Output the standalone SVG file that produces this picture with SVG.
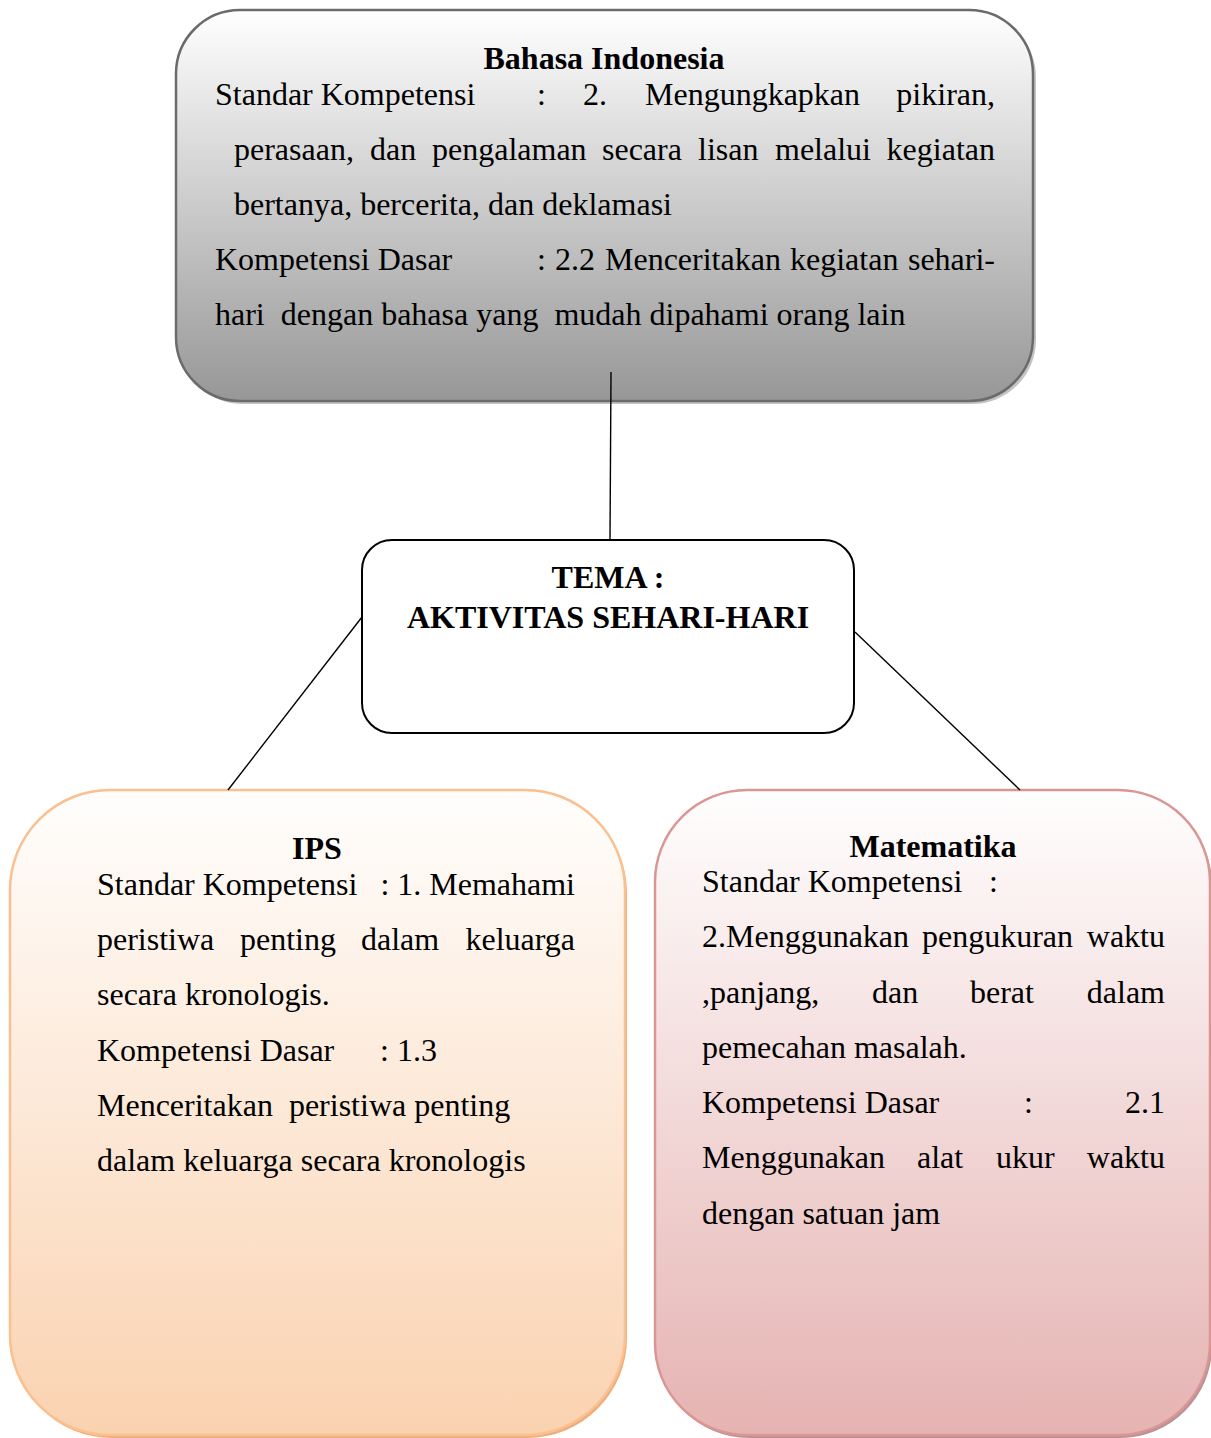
<svg xmlns="http://www.w3.org/2000/svg" width="1211" height="1438" viewBox="0 0 1211 1438">
<defs>
<linearGradient id="gTop" x1="0" y1="0" x2="0" y2="1">
<stop offset="0" stop-color="#ffffff"/>
<stop offset="1" stop-color="#979797"/>
</linearGradient>
<linearGradient id="gIps" x1="0" y1="0" x2="0" y2="1">
<stop offset="0" stop-color="#fffefd"/>
<stop offset="1" stop-color="#fad2b0"/>
</linearGradient>
<linearGradient id="gMat" x1="0" y1="0" x2="0" y2="1">
<stop offset="0" stop-color="#fffefe"/>
<stop offset="1" stop-color="#e5b3b2"/>
</linearGradient>
<style>
text{font-family:"Liberation Serif","Times New Roman",serif;font-size:32px;fill:#000}
.b{font-weight:bold}
.c{text-anchor:middle}
.e{text-anchor:end}
.conn line{stroke:#000;stroke-width:1.4}
</style>
</defs>
<rect width="1211" height="1438" fill="#fff"/>

<g id="bahasa-indonesia">
<rect x="179" y="13" width="857" height="391" rx="64" fill="#c4c4c4"/>
<rect x="176" y="10" width="857" height="391" rx="64" fill="url(#gTop)" stroke="#6b6b6b" stroke-width="2.5"/>
<text class="b c" x="604" y="69">Bahasa Indonesia</text>
<text x="215" y="105">Standar Kompetensi</text>
<text x="537" y="105">:</text>
<text x="583" y="105">2.</text>
<text x="645" y="105">Mengungkapkan</text>
<text class="e" x="995" y="105">pikiran,</text>
<text x="234" y="160">perasaan,</text>
<text x="370" y="160">dan</text>
<text x="432" y="160">pengalaman</text>
<text x="602" y="160">secara</text>
<text x="698" y="160">lisan</text>
<text x="775" y="160">melalui</text>
<text class="e" x="995" y="160">kegiatan</text>
<text x="234" y="215">bertanya, bercerita, dan deklamasi</text>
<text x="215" y="270">Kompetensi Dasar</text>
<text x="537" y="270">:</text>
<text x="555" y="270">2.2</text>
<text x="605" y="270">Menceritakan</text>
<text x="790" y="270">kegiatan</text>
<text class="e" x="995" y="270">sehari-</text>
<text x="215" y="325" xml:space="preserve">hari  dengan bahasa yang  mudah dipahami orang lain</text>
</g>

<g id="tema">
<rect x="362" y="540" width="492" height="193" rx="30" fill="#fff" stroke="#000" stroke-width="2"/>
<text class="b c" x="608" y="588">TEMA :</text>
<text class="b c" x="608" y="628">AKTIVITAS SEHARI-HARI</text>
</g>

<g id="ips">
<rect x="12" y="793" width="615" height="645" rx="100" fill="#eeae7c"/>
<rect x="10" y="790" width="615" height="645" rx="100" fill="url(#gIps)" stroke="#fac090" stroke-width="2.5"/>
<text class="b c" x="317" y="859">IPS</text>
<text x="97" y="895">Standar Kompetensi</text>
<text class="e" x="575" y="895">: 1. Memahami</text>
<text x="97" y="950">peristiwa</text>
<text x="240" y="950">penting</text>
<text x="361" y="950">dalam</text>
<text class="e" x="575" y="950">keluarga</text>
<text x="97" y="1005">secara kronologis.</text>
<text x="97" y="1061">Kompetensi Dasar</text>
<text x="380" y="1061">: 1.3</text>
<text x="97" y="1116" xml:space="preserve">Menceritakan  peristiwa penting</text>
<text x="97" y="1171">dalam keluarga secara kronologis</text>
</g>

<g id="matematika">
<rect x="657" y="793" width="555" height="645" rx="92" fill="#b99292"/>
<rect x="655" y="790" width="555" height="645" rx="92" fill="url(#gMat)" stroke="#d99694" stroke-width="2.5"/>
<text class="b c" x="933" y="857">Matematika</text>
<text x="702" y="892">Standar Kompetensi</text>
<text x="989" y="892">:</text>
<text x="702" y="947">2.Menggunakan</text>
<text x="922" y="947">pengukuran</text>
<text class="e" x="1165" y="947">waktu</text>
<text x="702" y="1003">,panjang,</text>
<text x="872" y="1003">dan</text>
<text x="970" y="1003">berat</text>
<text class="e" x="1165" y="1003">dalam</text>
<text x="702" y="1058">pemecahan masalah.</text>
<text x="702" y="1113">Kompetensi Dasar</text>
<text x="1024" y="1113">:</text>
<text class="e" x="1165" y="1113">2.1</text>
<text x="702" y="1168">Menggunakan</text>
<text x="917" y="1168">alat</text>
<text x="996" y="1168">ukur</text>
<text class="e" x="1165" y="1168">waktu</text>
<text x="702" y="1224">dengan satuan jam</text>
</g>

<g id="connectors" class="conn">
<line x1="611" y1="372" x2="610" y2="540"/>
<line x1="362" y1="617" x2="228" y2="790"/>
<line x1="855" y1="632" x2="1020" y2="790"/>
</g>
</svg>
